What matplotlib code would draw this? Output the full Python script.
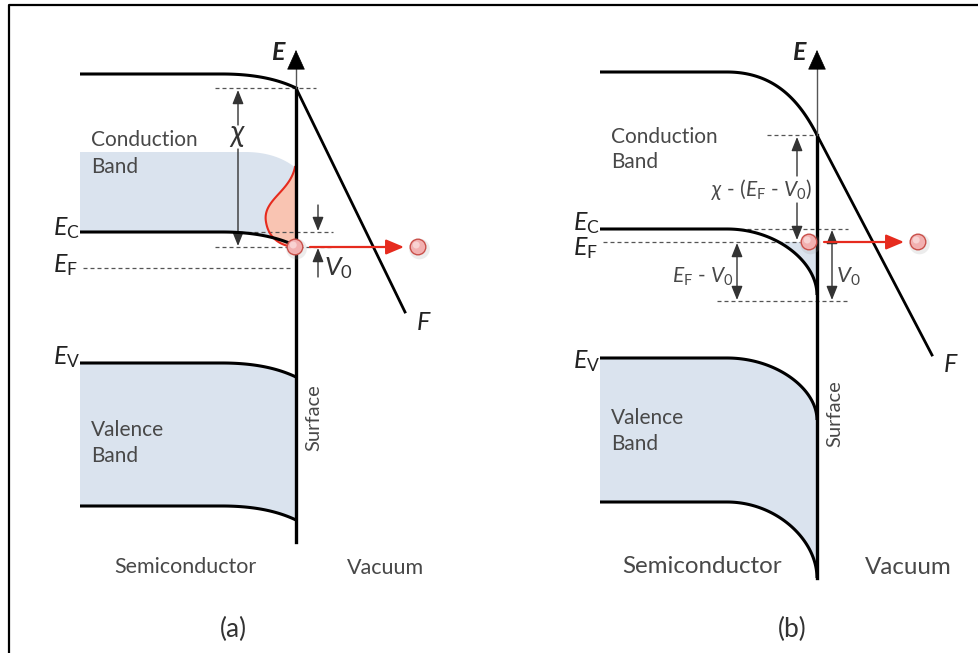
import numpy as np
import matplotlib.pyplot as plt
from matplotlib.patches import Circle, Polygon
from matplotlib.bezier import BezierSegment

plt.rcParams['font.family'] = ['Lato', 'DejaVu Sans']
plt.rcParams['mathtext.fontset'] = 'custom'
plt.rcParams['mathtext.rm'] = 'Lato'
plt.rcParams['mathtext.it'] = 'Lato:italic'

TXT = '#484848'
BAND = '#dae3ee'
RED = '#e62b1e'
DASH = '#555555'

# panels (a) and (b), everything in pixel units, y pointing down
panel_tags = ['(a)', '(b)']
tag_x = [233, 792]
surface_x = [296, 817]
surface_bottom = [542, 578]
surface_label_y = [418, 414]
band_x0 = [80, 600]
bend_x0 = [222, 727]
vac_y = [74, 72]
vac_y_surf = [88, 135]
ec_y = [232, 229]
ec_y_surf = [246, 295]
ef_y = [268, 242]
ev_y = [363, 358]
ev_y_surf = [377, 420]
vbot_y = [506, 502]
vbot_y_surf = [520, 578]
field_end = [(405, 312), (932, 355)]
electron_y = [247, 242]
electron2_x = [418, 918]
# bending shape (pull of first handle, pull/steepness of last handle)
bend_shape = [(0.5, 0.2, 0.5), (0.55, 0.0, 0.5)]
vac_shape = [(0.5, 0.2, 0.5), (0.55, 0.18, 0.5)]

# conduction band shading of panel (a)
cb_top_y, cb_top_surf, cb_bend_x = 152, 168, 245
# surface charge lobe of panel (a), two cubic pieces
lobe_ctrl = [[(295, 167), (290, 192), (262, 200), (266, 222)],
             [(266, 222), (269, 240), (282, 245), (292, 247)]]


def band_edge(x0, xb, xs, y0, ys, shape, n=60):
    c1, c2, c3 = shape
    dx, dy = xs - xb, ys - y0
    ctrl = np.array([(xb, y0), (xb + c1 * dx, y0), (xs - c2 * dx, ys - c3 * dy), (xs, ys)], float)
    pts = BezierSegment(ctrl)(np.linspace(0, 1, n))
    return np.vstack([[(x0, y0)], pts])


def dashed(ax, y, x1, x2):
    ax.plot([x1, x2], [y, y], color=DASH, lw=0.9, dashes=(3.2, 2.4), zorder=3)


def arrow(ax, start, tip, color='#333333', lw=1.0, style='-|>,head_length=0.7,head_width=0.28', ms=12, z=4):
    ax.annotate('', xy=tip, xytext=start,
                arrowprops=dict(arrowstyle=style, lw=lw, color=color, shrinkA=0, shrinkB=0,
                                mutation_scale=ms), zorder=z)


def electron(ax, x, y, r=7.8):
    ax.add_patch(Circle((x + 1.5, y + 2), r + 2.5, fc='#999999', ec='none', alpha=0.18, zorder=6))
    ax.add_patch(Circle((x, y), r, fc='#f2b0b0', ec='#c9504a', lw=1.0, zorder=7))
    ax.add_patch(Circle((x - 1.8, y - 2), r * 0.45, fc='#f8d2d2', ec='none', zorder=7))


fig = plt.figure(figsize=(9.79, 6.53), dpi=100)
ax = fig.add_axes([0, 0, 1, 1])
ax.set_xlim(0, 979)
ax.set_ylim(653, 0)
ax.axis('off')

# frame
ax.plot([9, 9, 979], [653, 5, 5], color='black', lw=1.6, zorder=1)

for i in range(2):
    xs = surface_x[i]
    x0 = band_x0[i]
    xb = bend_x0[i]
    sh = bend_shape[i]

    vac = band_edge(x0, xb, xs, vac_y[i], vac_y_surf[i], vac_shape[i])
    ec = band_edge(x0, xb, xs, ec_y[i], ec_y_surf[i], sh)
    ev = band_edge(x0, xb, xs, ev_y[i], ev_y_surf[i], sh)
    vb = band_edge(x0, xb, xs, vbot_y[i], vbot_y_surf[i], sh)

    # valence band shading
    ax.add_patch(Polygon(np.vstack([ev, vb[::-1]]), closed=True, fc=BAND, ec='none', zorder=1))

    for curve in (vac, ec, ev, vb):
        ax.plot(curve[:, 0], curve[:, 1], color='black', lw=2.2, solid_capstyle='butt', zorder=5)

    # field line into vacuum
    fx, fy = field_end[i]
    ax.plot([xs, fx], [vac_y_surf[i], fy], color='black', lw=2.0, zorder=5)
    ax.text(fx + 18, fy + 10, 'F', fontsize=18, fontstyle='italic', color='#222222',
            ha='center', va='center')

    # surface and energy axis
    ax.plot([xs, xs], [vac_y_surf[i], surface_bottom[i]], color='black', lw=2.4, zorder=5)
    ax.plot([xs, xs], [vac_y_surf[i], 62], color='#555555', lw=1.0, zorder=5)
    arrow(ax, (xs, 64), (xs, 50), color='black', lw=0.5,
          style='-|>,head_length=1.1,head_width=0.5', ms=12, z=5)
    ax.text(xs - 18, 52, 'E', fontsize=18, fontstyle='italic', fontweight='bold',
            color='#222222', ha='center', va='center')
    ax.text(xs + 18, surface_label_y[i], 'Surface', rotation=90,
            fontsize=14.5, color=TXT, ha='center', va='center')

    # electron leaving the surface
    ey = electron_y[i]
    electron(ax, xs - (1 if i == 0 else 8), ey)
    arrow(ax, (xs + (14 if i == 0 else 7), ey), (electron2_x[i] - 14, ey), color=RED, lw=1.6,
          style='-|>,head_length=0.9,head_width=0.38', ms=12, z=6)
    electron(ax, electron2_x[i], ey)

    # band labels
    lx = x0 + 11
    ax.text(lx, 146 if i == 0 else 143, 'Conduction', fontsize=15, color=TXT)
    ax.text(lx, 173 if i == 0 else 168, 'Band', fontsize=15, color=TXT)
    ax.text(lx, 436 if i == 0 else 424, 'Valence', fontsize=15, color=TXT)
    ax.text(lx, 462 if i == 0 else 450, 'Band', fontsize=15, color=TXT)

    bsize = 15.5 if i == 0 else 17.4
    ax.text((x0 + xs) / 2 + (-3 if i == 0 else -6), 573, 'Semiconductor', fontsize=bsize,
            color=TXT, ha='center')
    ax.text(386 if i == 0 else 908, 574, 'Vacuum', fontsize=bsize, color=TXT, ha='center')
    ax.text(tag_x[i], 629, panel_tags[i], fontsize=19, color='#333333', ha='center', va='center')

    ex = 53 if i == 0 else 573
    ax.text(ex, 235 if i == 0 else 230, '$E_\\mathrm{C}$', fontsize=18, color='#222222')
    ax.text(ex, 272 if i == 0 else 255, '$E_\\mathrm{F}$', fontsize=18, color='#222222')
    ax.text(ex, 364 if i == 0 else 368, '$E_\\mathrm{V}$', fontsize=18, color='#222222')

# ---- panel (a) details ----
xs = surface_x[0]
ec = band_edge(band_x0[0], bend_x0[0], xs, ec_y[0], ec_y_surf[0], bend_shape[0])
top = band_edge(band_x0[0], cb_bend_x, xs, cb_top_y, cb_top_surf, bend_shape[0])
ax.add_patch(Polygon(np.vstack([top, ec[::-1]]), closed=True, fc=BAND, ec='none', zorder=1))

lobe = np.vstack([BezierSegment(np.array(c, float))(np.linspace(0, 1, 40)) for c in lobe_ctrl])
ax.add_patch(Polygon(np.vstack([lobe, [(xs, 247), (xs, 167)]]), closed=True,
                     fc='#f9c4b2', ec='none', zorder=2))
ax.plot(lobe[:, 0], lobe[:, 1], color=RED, lw=1.5, zorder=4)

dashed(ax, vac_y_surf[0], 215, 316)
dashed(ax, ec_y[0], 240, 333)
dashed(ax, electron_y[0], 215, 333)
dashed(ax, ef_y[0], 83, 290)

arrow(ax, (238, 125), (238, 90))
arrow(ax, (238, 149), (238, ec_y_surf[0]))
ax.text(238, 135, '$\\chi$', fontsize=22, color='#333333', ha='center', va='center')

arrow(ax, (318, 205), (318, ec_y[0] - 1))
arrow(ax, (318, 277), (318, electron_y[0] + 1))
ax.text(324, 268, '$V_0$', fontsize=19, color='#333333', ha='left', va='center')

# ---- panel (b) details ----
xs = surface_x[1]
ec = band_edge(band_x0[1], bend_x0[1], xs, ec_y[1], ec_y_surf[1], bend_shape[1])
below = ec[ec[:, 1] >= ef_y[1]]
ax.add_patch(Polygon(np.vstack([[(below[0, 0], ef_y[1])], below, [(xs, ef_y[1])]]), closed=True,
                     fc=BAND, ec='none', zorder=1))

dashed(ax, vac_y_surf[1], 767, 818)
dashed(ax, ec_y[1], 740, 848)
dashed(ax, ef_y[1], 603, 800)
dashed(ax, 301, 717, 848)

arrow(ax, (797, 176), (797, vac_y_surf[1] + 2))
arrow(ax, (797, 203), (797, ef_y[1] - 2))
ax.text(762, 189, '$\\chi$ - ($E_\\mathrm{F}$ - $V_0$)', fontsize=15, color=TXT,
        ha='center', va='center')

arrow(ax, (737, ef_y[1] + 1), (737, 300), style='<|-|>,head_length=0.7,head_width=0.28')
ax.text(703, 277, '$E_\\mathrm{F}$ - $V_0$', fontsize=15, color=TXT, ha='center', va='center')

arrow(ax, (832, ec_y[1] + 1), (832, 300), style='<|-|>,head_length=0.7,head_width=0.28')
ax.text(836, 277, '$V_0$', fontsize=16, color=TXT, ha='left', va='center')

fig.savefig('out.png', dpi=100)
